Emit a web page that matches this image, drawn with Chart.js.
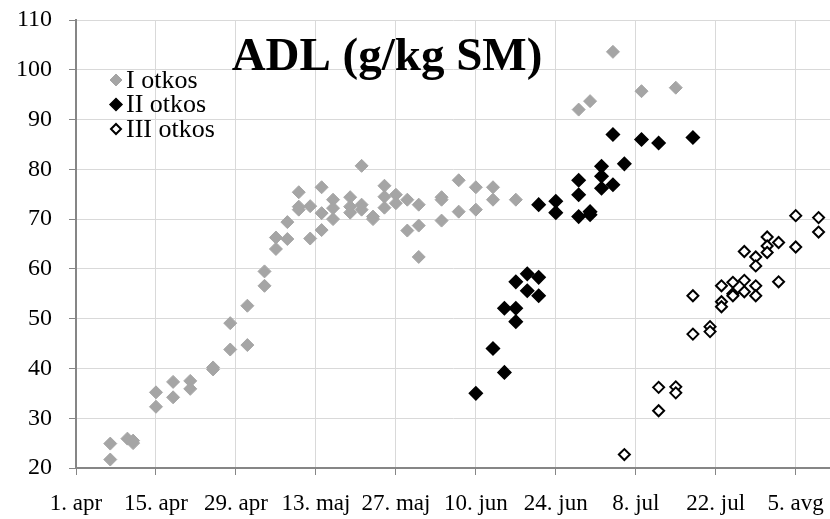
<!DOCTYPE html>
<html>
<head>
<meta charset="utf-8">
<script src="https://cdn.jsdelivr.net/npm/chart.js@4/dist/chart.umd.min.js"></script>
<style>
  html, body { margin: 0; padding: 0; background: #fff; }
  #wrap { width: 830px; height: 519px; }
</style>
</head>
<body>
<div id="wrap"><canvas id="adlChart" width="830" height="519"></canvas></div>
<script>
// ---------- data ----------
// x = days after 1. apr, y = ADL (g/kg SM)
const TITLE = 'ADL (g/kg SM)';
const SERIES_NAMES = ['I otkos', 'II otkos', 'III otkos'];
const X_TICK_LABELS = ['1. apr', '15. apr', '29. apr', '13. maj', '27. maj', '10. jun', '24. jun', '8. jul', '22. jul', '5. avg'];
const X_STEP_DAYS = 14;
const Y_TICKS = [20, 30, 40, 50, 60, 70, 80, 90, 100, 110];

const DAYS_I = [6, 6, 9, 10, 10, 14, 14, 17, 17, 20, 20, 24, 24, 27, 27, 30, 30, 33, 33, 35, 35, 37, 37,
  39, 39, 39, 41, 41, 43, 43, 43, 45, 45, 45, 48, 48, 48, 50, 50, 50, 52, 52, 54, 54, 54, 56, 56, 58, 58,
  60, 60, 60, 64, 64, 64, 67, 67, 70, 70, 73, 73, 77, 88, 90, 94, 99, 105];
const ADL_I = [24.9, 21.7, 25.9, 25.5, 25.0, 35.2, 32.3, 37.3, 34.2, 37.5, 35.9, 40.2, 39.8, 49.1, 43.8,
  52.6, 44.7, 59.5, 56.6, 66.3, 64.0, 69.4, 66.0, 75.4, 72.5, 71.9, 72.6, 66.1, 76.4, 71.2, 67.8,
  73.9, 72.2, 70.0, 74.4, 72.5, 71.3, 80.7, 72.9, 71.9, 70.5, 70.0, 76.7, 74.5, 72.3, 74.9, 73.2,
  73.9, 67.7, 72.9, 68.7, 62.4, 74.4, 73.9, 69.7, 77.8, 71.5, 76.4, 71.9, 76.4, 73.9, 73.9,
  92.0, 93.7, 103.6, 95.7, 96.4];

const DAYS_II = [70, 73, 75, 75, 77, 77, 77, 79, 79, 81, 81, 81, 84, 84, 88, 88, 88, 90, 90, 92, 92, 92,
  94, 94, 96, 99, 102, 108];
const ADL_II = [35.0, 44.0, 52.1, 39.2, 57.4, 52.1, 49.4, 59.0, 55.6, 72.9, 58.3, 54.6, 73.6, 71.3,
  77.8, 74.9, 70.5, 71.5, 70.9, 80.6, 78.6, 76.2, 87.0, 76.9, 81.1, 86.0, 85.3, 86.4];

const DAYS_III = [96, 102, 102, 105, 105, 108, 108, 111, 111, 113, 113, 113, 115, 115, 115, 117, 117, 117,
  119, 119, 119, 119, 121, 121, 121, 123, 123, 126, 126, 130, 130];
const ADL_III = [22.7, 36.2, 31.5, 36.3, 35.1, 54.6, 46.9, 48.4, 47.4, 56.6, 53.4, 52.4, 57.3, 55.0, 54.6,
  63.5, 57.7, 55.4, 62.4, 60.6, 56.6, 54.6, 66.4, 64.6, 63.3, 65.3, 57.4, 70.7, 64.4, 70.3, 67.4];

// ---------- helpers ----------
const pts = (xs, ys) => xs.map((x, i) => ({ x, y: ys[i] }));
const SERIF = '"Liberation Serif", "Times New Roman", serif';

Chart.defaults.font.family = SERIF;
Chart.defaults.color = '#000';

// title + legend drawn over the plot area (as in the Excel original)
const overlay = {
  id: 'overlay',
  afterDraw(chart) {
    const ctx = chart.ctx;
    ctx.save();
    ctx.fillStyle = '#000';
    ctx.font = `bold 47px ${SERIF}`;
    ctx.textAlign = 'center';
    ctx.textBaseline = 'alphabetic';
    ctx.fillText(TITLE, 387, 70);

    ctx.font = `26px ${SERIF}`;
    ctx.textAlign = 'left';
    ctx.textBaseline = 'middle';
    chart.data.datasets.forEach((ds, i) => {
      const y = 80 + i * 24.5;
      ctx.fillStyle = ds.backgroundColor;
      ctx.strokeStyle = ds.borderColor;
      ctx.lineWidth = ds.borderWidth;
      Chart.helpers.drawPoint(ctx, {
        pointStyle: 'rectRot', rotation: 0,
        radius: ds.pointRadius - 0.5, borderWidth: ds.borderWidth
      }, 116, y);
      ctx.fillStyle = '#000';
      ctx.fillText(ds.label, 126, y + 1);
    });
    ctx.restore();
  }
};

new Chart(document.getElementById('adlChart'), {
  type: 'scatter',
  data: {
    datasets: [
      {
        label: SERIES_NAMES[0], data: pts(DAYS_I, ADL_I),
        pointStyle: 'rectRot', pointRadius: 6.5, borderWidth: 1,
        backgroundColor: '#a5a5a5', borderColor: '#a5a5a5'
      },
      {
        label: SERIES_NAMES[1], data: pts(DAYS_II, ADL_II),
        pointStyle: 'rectRot', pointRadius: 6.5, borderWidth: 1.5,
        backgroundColor: '#000', borderColor: '#000'
      },
      {
        label: SERIES_NAMES[2], data: pts(DAYS_III, ADL_III),
        pointStyle: 'rectRot', pointRadius: 5.5, borderWidth: 2,
        backgroundColor: '#fff', borderColor: '#000'
      }
    ]
  },
  options: {
    responsive: false,
    animation: false,
    events: [],
    layout: { autoPadding: false, padding: { top: 20, right: 0, left: 0, bottom: 0 } },
    plugins: {
      legend: { display: false },
      tooltip: { enabled: false }
    },
    scales: {
      x: {
        type: 'linear',
        min: 0,
        max: 132,
        afterFit: (s) => { s.height = 51; s.paddingLeft = 0; s.paddingRight = 0; },
        grid: { color: '#d9d9d9', lineWidth: 1, tickLength: 7, tickColor: '#868686' },
        border: { color: '#868686', width: 2 },
        ticks: {
          stepSize: X_STEP_DAYS,
          includeBounds: false,
          maxRotation: 0,
          autoSkip: false,
          padding: 15,
          font: { size: 23 },
          callback: (v) => X_TICK_LABELS[Math.round(v / X_STEP_DAYS)] ?? ''
        }
      },
      y: {
        min: Y_TICKS[0],
        max: Y_TICKS[Y_TICKS.length - 1],
        afterFit: (s) => { s.width = 76; s.paddingTop = 0; s.paddingBottom = 0; },
        grid: {
          color: (c) => (c.tick && c.tick.value % 10 === 0 ? '#d9d9d9' : 'rgba(0,0,0,0)'),
          lineWidth: 1,
          tickLength: 7,
          tickColor: '#868686'
        },
        border: { color: '#868686', width: 2 },
        ticks: {
          stepSize: 5,
          padding: 17,
          font: { size: 24 },
          callback: (v) => (Y_TICKS.includes(v) ? String(v) : '')
        }
      }
    }
  },
  plugins: [overlay]
});
</script>
</body>
</html>
